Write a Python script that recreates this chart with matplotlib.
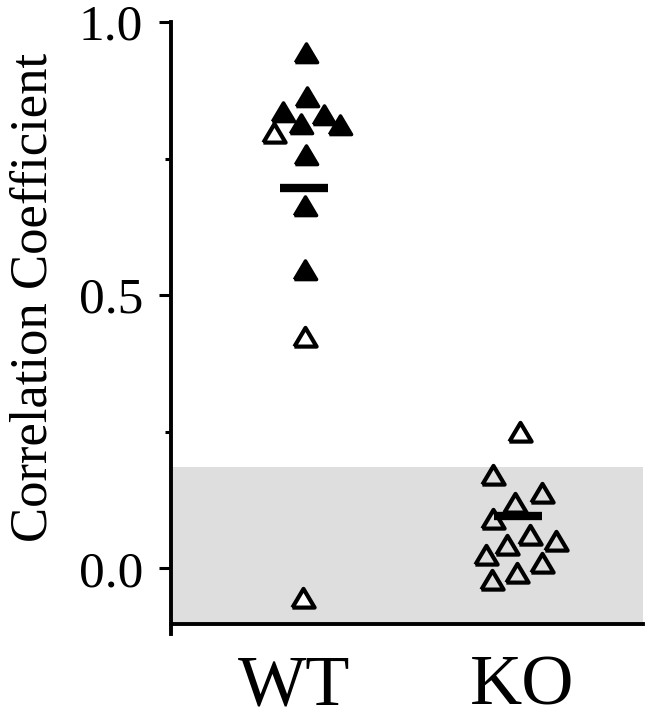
import matplotlib
matplotlib.use("Agg")
from matplotlib import pyplot as plt

plt.rcParams['font.family'] = ['Liberation Serif', 'DejaVu Serif']

groups = ['WT', 'KO']

# WT: filled triangles
wt_filled_x = [0.055, 0.059, -0.046, 0.132, 0.031, 0.202, 0.053, 0.050, 0.048]
wt_filled_y = [0.943, 0.863, 0.835, 0.830, 0.814, 0.811, 0.756, 0.664, 0.546]
# WT: open triangles
wt_open_x = [-0.088, 0.048, 0.039]
wt_open_y = [0.796, 0.424, -0.054]

# KO: open triangles
ko_x = [-0.007, -0.127, 0.086, -0.029, -0.129, 0.035, 0.151, -0.064, -0.156, 0.086, -0.022, -0.132]
ko_y = [0.250, 0.170, 0.138, 0.119, 0.090, 0.061, 0.050, 0.043, 0.025, 0.009, -0.009, -0.021]

# group means (horizontal bars)
mean_x = [0.044, 0.982]
mean_y = [0.697, 0.095]

# shaded band
band_lo, band_hi = -0.102, 0.185

fig = plt.figure(figsize=(6.52, 7.19), dpi=100)
ax = fig.add_axes([171/652, 1-624/719, (643-171)/652, (624-22)/719])

ax.axhspan(band_lo, band_hi, color='#dedede', lw=0, zorder=0)

# slightly wide triangle, like the original
tri = [(-1.1, -0.9), (1.1, -0.9), (0, 0.95), (-1.1, -0.9)]
ms = 16
ax.plot(wt_filled_x, wt_filled_y, marker=tri, ms=ms, color='black', mec='black', mew=2.5, ls='none', zorder=3)
ax.plot(wt_open_x, wt_open_y, marker=tri, ms=ms, mfc='white', mec='black', mew=3, ls='none', zorder=3)
ax.plot([1 + x for x in ko_x], ko_y, marker=tri, ms=ms, mfc='none', mec='black', mew=3, ls='none', zorder=3)

for mx, my in zip(mean_x, mean_y):
    ax.plot([mx - 0.105, mx + 0.105], [my, my], color='black', lw=6, solid_capstyle='butt', zorder=4)

ax.set_xlim(-0.539, 1.531)
ax.set_ylim(band_lo, 1.0)

ax.spines['top'].set_visible(False)
ax.spines['right'].set_visible(False)
ax.spines['left'].set_linewidth(2.8)
ax.spines['bottom'].set_linewidth(2.8)
ax.spines['left'].set_bounds(-0.12, 1.0)

ax.set_yticks([0.0, 0.5, 1.0])
ax.set_yticklabels(['0.0', '0.5', '1.0'])
ax.set_yticks([0.25, 0.75], minor=True)
ax.tick_params(axis='y', which='major', direction='out', length=9, width=2.2, labelsize=37, pad=11)
ax.tick_params(axis='y', which='minor', direction='out', length=4, width=2.2)

ax.set_xticks(range(len(groups)))
ax.set_xticklabels(groups)
ax.tick_params(axis='x', length=0, labelsize=52, pad=22)

ax.set_ylabel('Correlation Coefficient', fontsize=38)
ax.yaxis.set_label_coords(-0.240, 0.543)

fig.savefig('out.png', dpi=100)
